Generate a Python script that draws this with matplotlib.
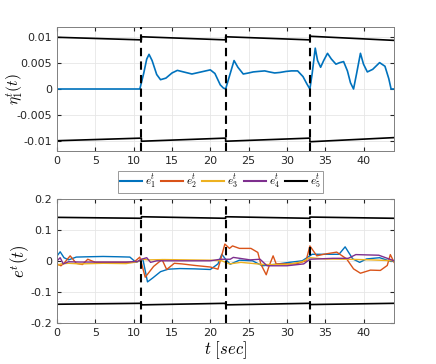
import matplotlib
matplotlib.use("Agg")
import matplotlib.pyplot as plt

plt.rcParams["font.family"] = "DejaVu Sans"
plt.rcParams["mathtext.fontset"] = "cm"
plt.rcParams["axes.unicode_minus"] = False

_BLUE = "#0072BD"
_ORANGE = "#D95319"
_YELLOW = "#EDB120"
_PURPLE = "#7E2F8E"

# switching instants (sec)
switch_t = [11, 22, 33]

# top panel: eta_1 and its bound
eta_t = [0, 10.8, 11.3, 11.7, 12.0, 12.4, 13.0, 13.5, 14.2, 15, 15.7, 16.5, 17.6, 18.8,
         20.0, 20.6, 21.3, 21.7, 22.0, 22.5, 23.1, 23.6, 24.3, 25.0, 25.6, 26.3, 27.1,
         27.7, 28.4, 29.1, 29.9, 30.6, 31.4, 32.1, 32.6, 33.0, 33.3, 33.7, 34.0, 34.4,
         34.8, 35.3, 35.8, 36.4, 36.9, 37.4, 37.9, 38.3, 38.7, 39.1, 39.6, 40.0, 40.5,
         41.2, 42.1, 42.8, 43.3, 43.6, 44]
eta_v = [0, 0, 0.003, 0.0058, 0.0067, 0.0055, 0.0028, 0.0018, 0.0021, 0.0031, 0.0036,
         0.0033, 0.0029, 0.0033, 0.0037, 0.0030, 0.0008, 0.0002, 0.0, 0.0025, 0.0055,
         0.0042, 0.0029, 0.0031, 0.0033, 0.0034, 0.0035, 0.0033, 0.0031, 0.0032, 0.0034,
         0.0035, 0.0035, 0.0024, 0.001, 0.0, 0.003, 0.0079, 0.0055, 0.0042, 0.0055,
         0.0069, 0.0058, 0.0048, 0.0051, 0.0053, 0.0035, 0.0012, 0.0, 0.003, 0.0069,
         0.0048, 0.0033, 0.0038, 0.0051, 0.0044, 0.0020, 0.0, 0.0]
eta_bound_t = [0, 11, 11, 22, 22, 33, 33, 44]
eta_bound_v = [0.0100, 0.0095, 0.0101, 0.0095, 0.0101, 0.0095, 0.0102, 0.0094]

# bottom panel: error components and bound
e1_t = [0, 0.4, 0.9, 1.5, 2.5, 4, 6, 8, 9.5, 10.3, 10.8, 11.2, 11.8, 12.5, 13.5, 14.5,
        16, 18, 20, 21, 21.5, 22, 22.6, 23.8, 25.5, 26.8, 28.6, 30.3, 32, 33.3, 35.1,
        36.8, 37.6, 38.6, 39.5, 40.4, 42.1, 43.6, 44]
e1_v = [0.016, 0.029, 0.01, 0.003, 0.012, 0.013, 0.014, 0.013, 0.012, -0.005, 0.0,
        0.005, -0.068, -0.055, -0.035, -0.027, -0.025, -0.026, -0.028, -0.01, 0.021,
        0.005, -0.011, 0.002, 0.0, -0.016, -0.011, -0.005, 0.0, 0.021, 0.021, 0.021,
        0.045, 0.006, -0.005, 0.006, 0.01, -0.002, 0.0]
e2_t = [0, 0.5, 1.0, 1.7, 2.5, 3.3, 4.0, 5, 6, 8, 10, 10.8, 11.5, 12.6, 13.7, 14.3,
        15.3, 16.3, 18, 20, 21, 21.9, 22.5, 22.9, 23.8, 25.3, 26.2, 26.6, 27.3, 27.7,
        28.2, 28.6, 29.9, 31.2, 32.5, 33, 33.9, 34.8, 36.5, 37.8, 38.7, 39.6, 40.9,
        42.2, 43.1, 43.5, 44]
e2_v = [-0.01, -0.016, -0.005, 0.016, -0.008, -0.012, 0.005, -0.005, -0.005, -0.005,
        -0.005, 0.012, -0.053, -0.018, 0.004, -0.028, -0.008, -0.01, -0.015, -0.02,
        -0.027, 0.054, 0.04, 0.048, 0.04, 0.04, 0.027, -0.011, -0.045, -0.015, 0.016,
        -0.01, -0.01, -0.01, 0.0, 0.048, 0.016, 0.021, 0.028, 0.006, -0.026, -0.04,
        -0.03, -0.031, -0.015, 0.02, -0.005]
e3_t = [0, 0.5, 1.5, 3, 6, 9, 10.5, 11, 12, 14, 17, 20, 21.5, 22.5, 24, 27, 30, 32, 33,
        35, 38, 41, 44]
e3_v = [-0.015, -0.01, -0.008, -0.01, -0.008, -0.009, -0.003, 0.005, 0.003, 0.004,
        0.003, 0.002, 0.0, -0.01, -0.005, -0.012, -0.012, -0.003, 0.01, 0.006, 0.005,
        0.003, 0.0]
e4_t = [0, 0.4, 0.8, 1.5, 3, 6, 9, 10.5, 11, 11.7, 12.2, 13, 16, 20, 21.3, 22.6, 23,
        25.2, 26.5, 27.4, 30, 32.2, 33, 36, 38, 39, 42, 44]
e4_v = [0.0, 0.01, -0.01, -0.003, -0.004, -0.004, -0.004, -0.002, 0.005, 0.01, -0.005,
        0.0, 0.0, 0.0, 0.005, 0.005, 0.011, 0.003, 0.005, -0.016, -0.016, -0.01, 0.005,
        0.008, 0.008, 0.02, 0.018, 0.0]
e_bound_t = [0, 11, 11, 22, 22, 33, 33, 44]
e_bound_v = [0.140, 0.137, 0.142, 0.137, 0.142, 0.137, 0.141, 0.137]

xticks = [0, 5, 10, 15, 20, 25, 30, 35, 40]


def _style(ax):
    ax.set_xlim(0, 44)
    ax.set_xticks(xticks)
    ax.grid(True, color="#e6e6e6", linewidth=0.6)
    ax.set_axisbelow(True)
    ax.tick_params(direction="in", length=3, labelsize=8, colors="#262626",
                   top=True, right=True)
    for s in ax.spines.values():
        s.set_color("#808080")
        s.set_linewidth(0.7)
    for t in switch_t:
        ax.axvline(t, color="black", linestyle=(0, (4, 2.5)), linewidth=1.5, zorder=5)


fig = plt.figure(figsize=(4.36, 3.64), dpi=100)
ax1 = fig.add_axes([0.131, 0.585, 0.773, 0.341])
ax2 = fig.add_axes([0.131, 0.113, 0.773, 0.341])

# top
ax1.plot(eta_bound_t, eta_bound_v, color="black", linewidth=1.2)
ax1.plot(eta_bound_t, [-v for v in eta_bound_v], color="black", linewidth=1.2)
ax1.plot(eta_t, eta_v, color=_BLUE, linewidth=1.2)
ax1.set_ylim(-0.012, 0.012)
ax1.set_yticks([-0.01, -0.005, 0, 0.005, 0.01])
ax1.set_yticklabels(["-0.01", "-0.005", "0", "0.005", "0.01"])
ax1.set_ylabel(r"$\eta^{t}_{1}(t)$", fontsize=11)
ax1.yaxis.set_label_coords(-0.095, 0.5)
_style(ax1)

# bottom
ax2.plot(e1_t, e1_v, color=_BLUE, linewidth=1.0, label=r"$e^{t}_{1}$")
ax2.plot(e2_t, e2_v, color=_ORANGE, linewidth=1.0, label=r"$e^{t}_{2}$")
ax2.plot(e3_t, e3_v, color=_YELLOW, linewidth=1.0, label=r"$e^{t}_{3}$")
ax2.plot(e4_t, e4_v, color=_PURPLE, linewidth=1.0, label=r"$e^{t}_{4}$")
ax2.plot(e_bound_t, e_bound_v, color="black", linewidth=1.2, label=r"$e^{t}_{5}$")
ax2.plot(e_bound_t, [-v for v in e_bound_v], color="black", linewidth=1.2)
ax2.set_ylim(-0.2, 0.2)
ax2.set_yticks([-0.2, -0.1, 0, 0.1, 0.2])
ax2.set_yticklabels(["-0.2", "-0.1", "0", "0.1", "0.2"])
ax2.set_ylabel(r"$e^{t}(t)$", fontsize=12)
ax2.yaxis.set_label_coords(-0.075, 0.5)
ax2.set_xlabel(r"$t\ [sec]$", fontsize=12, labelpad=1)
_style(ax2)

leg = fig.legend(loc="center", bbox_to_anchor=(0.505, 0.5), ncol=5, fontsize=8,
                 frameon=True, fancybox=False, handlelength=2.0, columnspacing=0.5,
                 handletextpad=0.25, borderpad=0.2)
leg.get_frame().set_edgecolor("#808080")
leg.get_frame().set_linewidth(0.7)
for line in leg.get_lines():
    line.set_linewidth(1.5)

fig.savefig("out.png", dpi=100)
